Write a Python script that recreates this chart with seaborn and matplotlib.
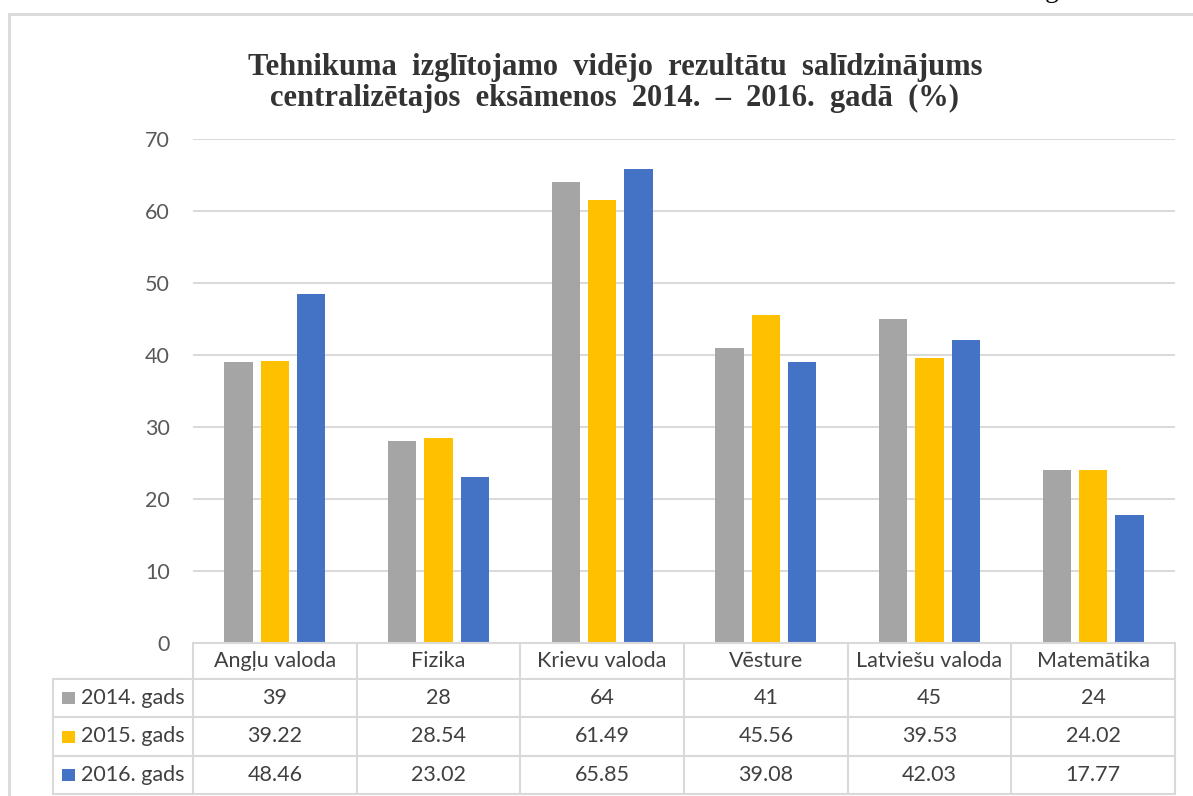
import numpy as np
import pandas as pd
import matplotlib
matplotlib.use("Agg")
import matplotlib.pyplot as plt
import seaborn as sns
from matplotlib.lines import Line2D
from matplotlib.patches import Rectangle

# ---------------- data ----------------
categories = ["Angļu valoda", "Fizika", "Krievu valoda", "Vēsture",
              "Latviešu valoda", "Matemātika"]
series_names = ["2014. gads", "2015. gads", "2016. gads"]
values_2014 = [39, 28, 64, 41, 45, 24]
values_2015 = [39.22, 28.54, 61.49, 45.56, 39.53, 24.02]
values_2016 = [48.46, 23.02, 65.85, 39.08, 42.03, 17.77]
series_colors = ["#A5A5A5", "#FFC000", "#4472C4"]
y_ticks = [0, 10, 20, 30, 40, 50, 60, 70]
title_text = ("Tehnikuma  izglītojamo  vidējo  rezultātu  salīdzinājums\n"
              "centralizētajos  eksāmenos  2014.  –  2016.  gadā  (%)")

all_values = [values_2014, values_2015, values_2016]
df = pd.DataFrame({
    "category": categories * 3,
    "series": [s for s in series_names for _ in categories],
    "value": values_2014 + values_2015 + values_2016,
})

# ---------------- figure ----------------
W, H = 1193, 796
sns.set_style("white")
plt.rcParams["font.family"] = ["Lato", "DejaVu Sans"]

fig = plt.figure(figsize=(W / 100, H / 100), dpi=100)
ax_left, ax_right, ax_top, ax_bot = 193, 1175, 139, 643
ax = fig.add_axes([ax_left / W, 1 - ax_bot / H, (ax_right - ax_left) / W,
                   (ax_bot - ax_top) / H])

sns.barplot(data=df, x="category", y="value", hue="series",
            order=categories, hue_order=series_names,
            palette=series_colors, saturation=1, width=0.666, gap=0.216,
            linewidth=0, legend=False, ax=ax)

ax.set_xlim(-0.5, len(categories) - 0.5)
ax.set_ylim(0, 70)
ax.set_yticks(y_ticks)
ax.set_yticklabels([str(t) for t in y_ticks])
ax.set_xticks(range(len(categories)))
ax.set_xticklabels([])
ax.set_xlabel("")
ax.set_ylabel("")
for s in ax.spines.values():
    s.set_visible(False)
ax.yaxis.grid(True, color="#D9D9D9", lw=1.4)
ax.set_axisbelow(True)
ax.tick_params(axis="y", length=0, pad=16.5, labelsize=15.5, labelcolor="#595959")
ax.tick_params(axis="x", length=0)

# ---------------- helpers in pixel coords (y from top) ----------------
def fx(x):
    return x / W

def fy(y):
    return 1 - y / H

line_col = "#D9D9D9"
def hline(x0, x1, y, lw=1.5, color=line_col):
    fig.add_artist(Line2D([fx(x0), fx(x1)], [fy(y), fy(y)], color=color,
                          lw=lw, transform=fig.transFigure))

def vline(x, y0, y1, lw=1.5, color=line_col):
    fig.add_artist(Line2D([fx(x), fx(x)], [fy(y0), fy(y1)], color=color,
                          lw=lw, transform=fig.transFigure))

# outer chart frame
hline(9, W, 13.5, lw=2.0)
vline(9, 13.5, H, lw=2.0)

# ---------------- data table ----------------
col_w = (ax_right - ax_left) / len(categories)
col_edges = [ax_left + i * col_w for i in range(len(categories) + 1)]
row_edges = [643, 679, 717, 756, 794]
label_left = 53

hline(ax_left, ax_right, row_edges[0])
for y in row_edges[1:]:
    hline(label_left, ax_right, y)
for x in col_edges:
    vline(x, row_edges[0], row_edges[-1])
vline(label_left, row_edges[1], row_edges[-1])

txt_col = "#404040"
fs = 15.5
hdr_y = (row_edges[0] + row_edges[1]) / 2
for i, cat in enumerate(categories):
    cx = (col_edges[i] + col_edges[i + 1]) / 2
    fig.text(fx(cx), fy(hdr_y), cat, ha="center", va="center",
             fontsize=fs, color=txt_col)

for r, (name, vals, col) in enumerate(zip(series_names, all_values, series_colors)):
    cy = (row_edges[r + 1] + row_edges[r + 2]) / 2
    fig.add_artist(Rectangle((fx(62), fy(cy + 6)), 13 / W, 12 / H,
                             facecolor=col, edgecolor="none",
                             transform=fig.transFigure))
    fig.text(fx(81), fy(cy), name, ha="left", va="center",
             fontsize=fs, color=txt_col)
    for i, v in enumerate(vals):
        cx = (col_edges[i] + col_edges[i + 1]) / 2
        fig.text(fx(cx), fy(cy), f"{v:g}", ha="center", va="center",
                 fontsize=fs, color=txt_col)

# ---------------- title ----------------
fig.text(fx(615), fy(83), title_text, ha="center", va="center",
         fontsize=22, fontweight="bold", color="#333333",
         family=["Liberation Serif", "DejaVu Serif"], linespacing=1.08)

# cropped page text at the very top
fig.text(fx(1052), fy(-3.5), "g", ha="center", va="baseline", fontsize=20,
         color="black", family=["Liberation Serif", "DejaVu Serif"])

fig.savefig("out.png", dpi=100)
